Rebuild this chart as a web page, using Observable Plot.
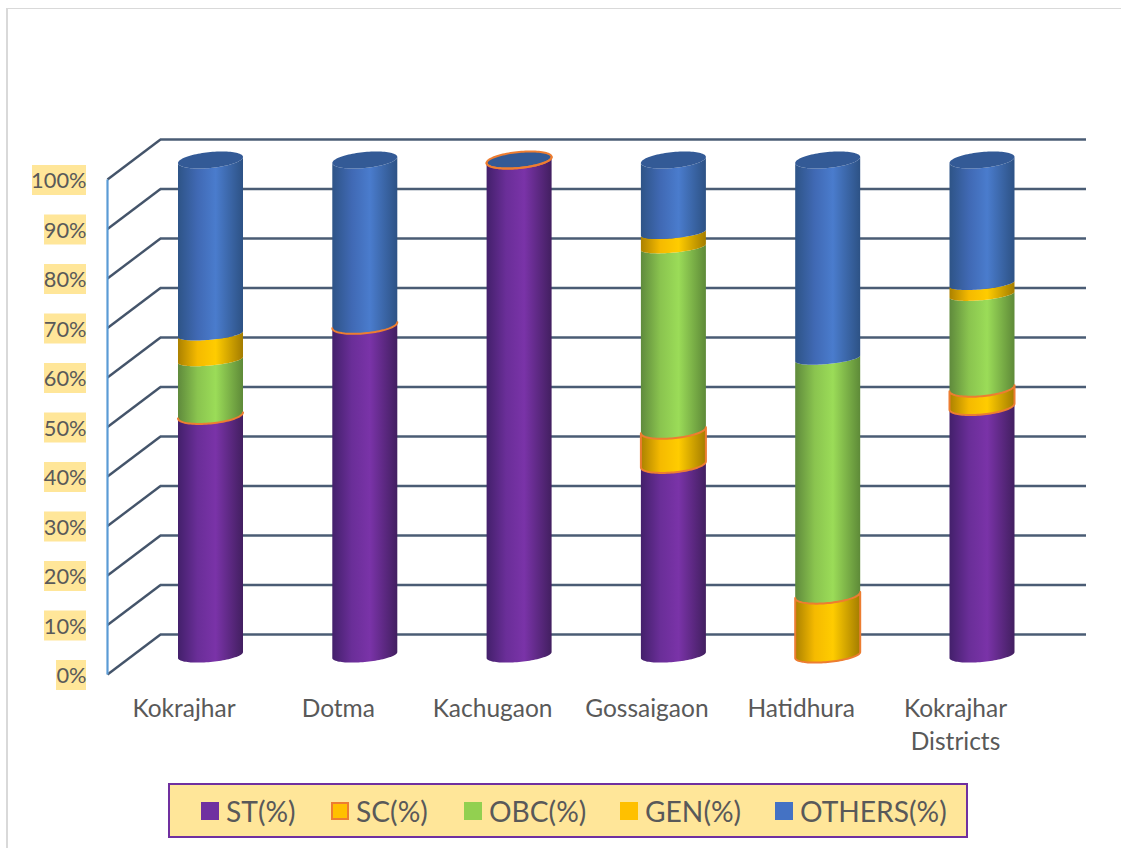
<!DOCTYPE html>
<html>
<head>
<meta charset="utf-8">
<script src="https://cdn.jsdelivr.net/npm/d3@7"></script>
<script src="https://cdn.jsdelivr.net/npm/@observablehq/plot@0.6"></script>
<style>
  html, body { margin: 0; padding: 0; background: #fff; overflow: hidden; }
  body { width: 1121px; height: 848px; position: relative; font-family: Lato, "Open Sans", sans-serif; }
  #frame { position: absolute; left: 6px; top: 8px; right: 0; bottom: 0; border-left: 2px solid #d9d9d9; border-top: 1px solid #d9d9d9; pointer-events: none; }
  svg { display: block; }
  #legend {
    box-sizing: border-box; margin: 3px 0 0 168px; width: 800px; height: 55px;
    background: #ffe699; border: 2px solid #7030a0; padding-left: 31px;
    display: grid; grid-template-columns: 130px 133px 156px 155px 1fr; align-items: center;
    color: #595959; font-size: 28.2px;
  }
  #legend span.item { display: flex; align-items: center; }
  #legend i { display: inline-block; box-sizing: border-box; width: 18px; height: 18px; margin-right: 7px; }
</style>
</head>
<body>
<div id="chart"></div>
<div id="legend"></div>
<div id="frame"></div>
<script>
// Population share by community and block, stacked to 100%.
const categories = ["Kokrajhar", "Dotma", "Kachugaon", "Gossaigaon", "Hatidhura", "Kokrajhar\nDistricts"];
const st     = [48.4, 66.6, 100, 38.5, 0, 50.2];
const sc     = [0, 0, 0, 6.9, 12.1, 3.7];
const obc    = [11.2, 0, 0, 37, 47.8, 18.9];
const gen    = [5.2, 0, 0, 2.9, 0, 2.2];
const others = [35.2, 33.4, 0, 14.7, 40.1, 25];

const seriesNames = ["ST(%)", "SC(%)", "OBC(%)", "GEN(%)", "OTHERS(%)"];
const seriesValues = [st, sc, obc, gen, others];
const swatchColors = ["#7030a0", "#ffc000", "#92d050", "#ffc000", "#4472c4"];
const gradientIds = ["g-purple", "g-gold", "g-green", "g-gold", "g-blue"];
const gradients = {
  "g-purple": ["#43206b", "#6a2e98", "#7a33a8", "#421f60"],
  "g-gold":   ["#ab8100", "#f5ba00", "#ffcc00", "#a37c00"],
  "g-green":  ["#5f8a3c", "#8ac44f", "#9bdc58", "#5e8a38"],
  "g-blue":   ["#2e5487", "#4069b4", "#4a7ccd", "#2d5285"]
};
const tickValues = [0, 10, 20, 30, 40, 50, 60, 70, 80, 90, 100];

// Cylinder and wall geometry, in scale units.
const unitsPerPx = { x: 1 / 154.3, y: 1 / 4.95 };
const radius = 32.5, capDepth = 8, seamDepth = 5.5, baseDepth = 7, rimTilt = 3;
const frontDrop = 19 * unitsPerPx.y, backRise = 21 * unitsPerPx.y;
const wallFront = (107 - 210.5) * unitsPerPx.x;
const wallBack = (160 - 210.5) * unitsPerPx.x;
const wallRight = (1086 - 210.5) * unitsPerPx.x;
const labelRight = (86 - 210.5) * unitsPerPx.x;

// Rim of a cylinder slice seen from slightly above; depth > 0 bows toward the viewer.
const rimSteps = d3.range(0, 49).map(i => -Math.cos(i / 48 * Math.PI));
const rimOffset = (u, depth) => -(depth * Math.sqrt(Math.max(0, 1 - u * u)) - rimTilt * u) * unitsPerPx.y;

const slices = [];
categories.forEach((name, c) => {
  let base = 0;
  seriesValues.forEach((values, s) => {
    slices.push({ c, s, from: base, to: base + values[c] });
    base += values[c];
  });
});

// Seams touching the outlined SC slice and the cap use the full rim; others sit flatter.
const seamDepthAt = (c, v) => {
  const low = st[c], high = st[c] + sc[c];
  if (v === 0) return baseDepth;
  return v === low || v === high || v >= 100 ? capDepth : seamDepth;
};

const sliceMark = d => Plot.areaY(
  rimSteps.map(u => ({
    x: d.c + u * radius * unitsPerPx.x,
    y1: d.from + rimOffset(u, seamDepthAt(d.c, d.from)),
    y2: d.to + rimOffset(u, seamDepthAt(d.c, d.to))
  })),
  {
    x: "x", y1: "y1", y2: "y2", curve: "linear",
    fill: `url(#${gradientIds[d.s]})`,
    stroke: d.s === 1 ? "#ed7d31" : "none",
    strokeWidth: d.s === 1 ? 2 : 0
  }
);

const capMark = c => {
  const ringed = st[c] + sc[c] >= 100;
  return Plot.areaY(
    rimSteps.map(u => ({
      x: c + u * radius * unitsPerPx.x,
      y1: 100 + rimOffset(u, capDepth),
      y2: 100 + rimOffset(u, -capDepth)
    })),
    {
      x: "x", y1: "y1", y2: "y2", curve: "linear", fill: "#335a96",
      stroke: ringed ? "#ed7d31" : "none", strokeWidth: ringed ? 2 : 0
    }
  );
};

const defsMark = () => {
  const defs = d3.create("svg:defs");
  for (const [id, stops] of Object.entries(gradients)) {
    const g = defs.append("linearGradient").attr("id", id);
    [0, 0.3, 0.58, 1].forEach((o, i) => g.append("stop").attr("offset", o).attr("stop-color", stops[i]));
  }
  return defs.node();
};

const labelText = d => `${d}%`;

const plot = Plot.plot({
  width: 1121,
  height: 780,
  margin: 0,
  style: { background: "transparent", fontFamily: "Lato, 'Open Sans', sans-serif", overflow: "visible" },
  x: { domain: [0, 5], range: [210.5, 982], axis: null },
  y: { domain: [0, 100], range: [655, 160], axis: null },
  marks: [
    defsMark,
    // back wall gridlines and the diagonals running to the front axis
    Plot.link(tickValues, {
      x1: () => wallFront, x2: () => wallBack,
      y1: d => d - frontDrop, y2: d => d + backRise,
      stroke: "#44546a", strokeWidth: 2.4
    }),
    Plot.ruleY(tickValues.map(d => d + backRise), {
      x1: wallBack, x2: wallRight, stroke: "#4a5c74", strokeWidth: 2.6
    }),
    Plot.link([0], {
      x1: () => wallFront, x2: () => wallFront,
      y1: () => -frontDrop, y2: () => 100 - frontDrop,
      stroke: "#5b9bd5", strokeWidth: 2.2
    }),
    // percentage labels on their highlight
    Plot.rect(tickValues, {
      x1: d => labelRight - (labelText(d).length * 12 + 6) * unitsPerPx.x,
      x2: () => labelRight,
      y1: d => d - frontDrop - 16 * unitsPerPx.y,
      y2: d => d - frontDrop + 14 * unitsPerPx.y,
      fill: "#ffe699"
    }),
    Plot.text(tickValues, {
      x: () => labelRight,
      y: d => d - frontDrop,
      text: labelText,
      textAnchor: "end",
      dy: 2,
      fill: "#595959",
      fontSize: 21.8
    }),
    // category labels
    Plot.text(categories, {
      x: (d, i) => i,
      y: () => 0,
      text: d => d,
      dx: -27,
      dy: 38,
      lineAnchor: "top",
      lineHeight: 1.35,
      textAnchor: "middle",
      fill: "#595959",
      fontSize: 24.5
    }),
    // cylinders: plain slices first, then the outlined SC slices and the caps
    ...slices.filter(d => d.s !== 1 && d.to > d.from).map(sliceMark),
    ...categories.map((_, c) => capMark(c)),
    ...slices.filter(d => d.s === 1).map(sliceMark)
  ]
});
document.getElementById("chart").append(plot);

const legend = d3.select("#legend");
seriesNames.forEach((name, i) => {
  const item = legend.append("span").attr("class", "item");
  const swatch = item.append("i").style("background", swatchColors[i]);
  if (i === 1) swatch.style("border", "2px solid #ed7d31");
  item.append("span").text(name);
});
</script>
</body>
</html>
